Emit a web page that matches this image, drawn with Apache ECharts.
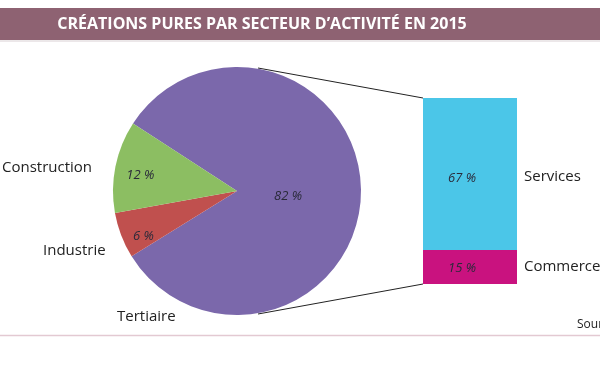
<!DOCTYPE html>
<html><head><meta charset="utf-8">
<script src="https://cdn.jsdelivr.net/npm/echarts@6/dist/echarts.min.js"></script>
<style>html,body{margin:0;padding:0;background:#fff}#c{width:600px;height:372px}</style>
</head><body><div id="c"></div>
<script>
const pieNames = ['Tertiaire', 'Industrie', 'Construction'];
const pieValues = [82, 6, 12];
const pieColors = ['#7B68AB', '#C0504E', '#8CBE62'];
const barNames = ['Commerce', 'Services'];
const barValues = [15, 67];
const barColors = ['#C9127F', '#4BC6E8'];
const titleText = 'CRÉATIONS PURES PAR SECTEUR D\u2019ACTIVITÉ EN 2015';

const font = '"Open Sans", "DejaVu Sans", sans-serif';
const chart = echarts.init(document.getElementById('c'), null, {renderer: 'canvas'});

const pieLabelShift = [[-14, 5], [-33, 22], [-33, -3]];

const barSeries = barValues.map((v, i) => ({
  type: 'bar', stack: 's', name: barNames[i],
  data: [v], barWidth: '100%',
  itemStyle: {color: barColors[i]},
  label: {show: true, position: 'inside', formatter: '{c} %', fontStyle: 'italic',
          fontFamily: font, fontSize: 13, color: '#2a2a3a', offset: [-8, i === 1 ? 4 : 1]}
}));

chart.setOption({
  animation: false,
  grid: {left: 423, top: 98, width: 94, height: 186},
  xAxis: {type: 'category', data: [''], show: false, boundaryGap: true},
  yAxis: {type: 'value', min: 0, max: 82, show: false},
  series: [
    {
      type: 'pie', center: [237, 191], radius: 124, startAngle: 147, clockwise: true,
      data: pieValues.map((v, i) => ({value: v, name: pieNames[i], itemStyle: {color: pieColors[i]}})),
      label: {show: true, position: 'inner', formatter: '{c} %', fontStyle: 'italic',
              fontFamily: font, fontSize: 13, color: '#2a2a3a'},
      labelLayout: p => ({dx: pieLabelShift[p.dataIndex][0], dy: pieLabelShift[p.dataIndex][1]}),
      labelLine: {show: false},
      itemStyle: {borderWidth: 0},
      emphasis: {disabled: true}
    },
    ...barSeries
  ],
  graphic: [
    {type: 'rect', shape: {x: 0, y: 8, width: 600, height: 32}, style: {fill: '#8E6272'}},
    {type: 'text', x: 262, y: 24, style: {text: titleText, fill: '#fff', font: 'bold 16px ' + font, textAlign: 'center', textVerticalAlign: 'middle'}},
    {type: 'line', shape: {x1: 0, y1: 41, x2: 600, y2: 41}, style: {stroke: '#d9d0d3', lineWidth: 1}},
    {type: 'line', shape: {x1: 258, y1: 68, x2: 423, y2: 98}, style: {stroke: '#222', lineWidth: 1}},
    {type: 'line', shape: {x1: 258, y1: 314, x2: 423, y2: 284}, style: {stroke: '#222', lineWidth: 1}},
    {type: 'text', x: 2, y: 168, style: {text: pieNames[2], fill: '#222', font: '15px ' + font, textVerticalAlign: 'middle'}},
    {type: 'text', x: 43, y: 251, style: {text: pieNames[1], fill: '#222', font: '15px ' + font, textVerticalAlign: 'middle'}},
    {type: 'text', x: 117, y: 317, style: {text: pieNames[0], fill: '#222', font: '15px ' + font, textVerticalAlign: 'middle'}},
    {type: 'text', x: 524, y: 177, style: {text: barNames[1], fill: '#222', font: '15px ' + font, textVerticalAlign: 'middle'}},
    {type: 'text', x: 524, y: 267, style: {text: barNames[0], fill: '#222', font: '15px ' + font, textVerticalAlign: 'middle'}},
    {type: 'text', x: 577, y: 325, style: {text: 'Source', fill: '#222', font: '12px ' + font, textVerticalAlign: 'middle'}},
    {type: 'line', shape: {x1: 0, y1: 335.5, x2: 600, y2: 335.5}, style: {stroke: '#e3c9d2', lineWidth: 1.5}}
  ]
});
</script></body></html>
